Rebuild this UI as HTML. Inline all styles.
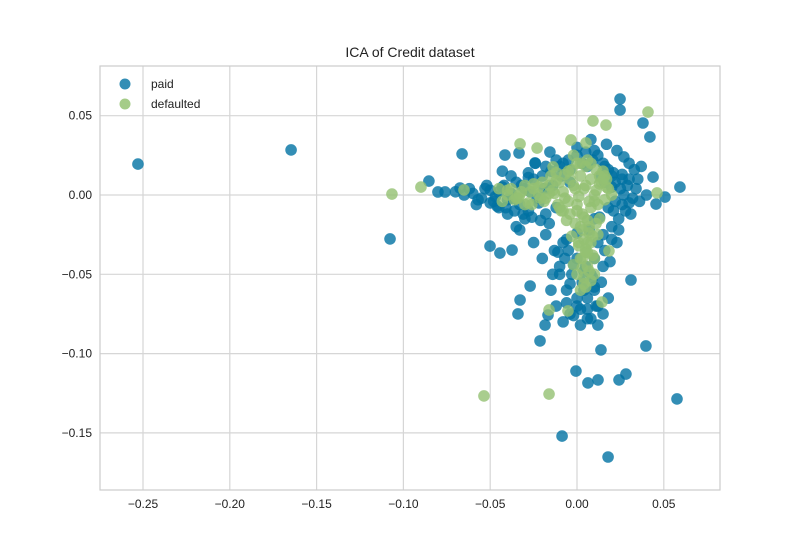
<!DOCTYPE html>
<html><head><meta charset="utf-8"><style>
body{margin:0;background:#fff;}
svg{display:block;font-family:"Liberation Sans","DejaVu Sans",sans-serif;}
</style></head><body>
<svg id="chart" width="800" height="550" viewBox="0 0 800 550" xmlns="http://www.w3.org/2000/svg">
<rect width="800" height="550" fill="#fff"/>
<text x="410" y="57" text-anchor="middle" font-size="14" fill="#222">ICA of Credit dataset</text>
<g id="grid"></g><g id="ticks"></g><g id="marks"></g>
<rect x="100" y="66" width="620" height="424" fill="none" stroke="#cccccc" stroke-width="1.2"/>
<g>
<circle cx="125" cy="84" r="5.5" fill="#0072a2" fill-opacity="0.8"/>
<text x="151" y="88" font-size="12" fill="#222">paid</text>
<circle cx="125" cy="104" r="5.5" fill="#8fbf6a" fill-opacity="0.8"/>
<text x="151" y="108" font-size="12" fill="#222">defaulted</text>
</g>
</svg>
<script>
const xTicks=[-0.25,-0.20,-0.15,-0.10,-0.05,0.00,0.05];
const xTickLabels=["−0.25","−0.20","−0.15","−0.10","−0.05","0.00","0.05"];
const yTicks=[0.05,0.00,-0.05,-0.10,-0.15];
const yTickLabels=["0.05","0.00","−0.05","−0.10","−0.15"];
const paidX=[-0.2529,-0.1647,-0.1077,-0.0662,0.0593,0.0248,0.0248,0.038,0.042,0.0438,0.0507,0.0455,0.0311,0.0397,0.0576,0.0138,-0.0006,0.0282,0.0121,0.0063,0.0242,-0.0086,0.0179,-0.0213,-0.0501,-0.0444,-0.0374,-0.034,-0.0328,-0.027,-0.0184,-0.0167,-0.0674,-0.0853,-0.0801,-0.076,-0.0415,-0.0334,-0.0156,-0.0242,
-0.06,-0.055,-0.05,-0.048,-0.045,-0.042,-0.04,-0.038,-0.035,-0.033,-0.03,-0.028,-0.025,-0.022,-0.02,-0.018,-0.015,-0.012,-0.01,-0.008,-0.005,0,0.005,0.01,0.012,0.015,0.018,0.02,0.022,0.025,0.027,0.03,0.032,0.028,0.024,0.02,0.015,0.012,-0.03,-0.035,-0.04,-0.045,-0.052,-0.058,-0.062,-0.038,-0.043,-0.028,-0.024,-0.018,0.0,0.008,0.017,0.023,0.03,0.035,0.04,0.033,0.027,
-0.008,-0.005,0.0,0.005,-0.003,0.003,0.008,-0.006,0.0,0.006,0.01,-0.01,0.012,0.002,-0.004,0.008,-0.008,0.015,-0.012,-0.015,0.018,-0.02,-0.025,-0.018,0.01,0.015,0.002,0.012,-0.01,
-0.07,-0.065,-0.057,-0.012,0.006,0.014,0.02,-0.004,0.01,0.026,0.016,-0.016,
-0.053,-0.047,-0.043,-0.037,-0.032,-0.027,-0.023,-0.019,-0.014,-0.009,-0.004,0.003,0.009,0.016,0.021,0.026,0.029,0.034,0.036,-0.05,-0.046,-0.041,-0.036,-0.031,-0.026,-0.021,-0.016,0.018,0.022,0.026,0.03,0.021,0.013,0.007,0.0,-0.006,-0.011,0.016,0.02,0.024,-0.013,-0.007,-0.002,0.004,0.009,0.014,-0.006,0.0,0.006,0.011,-0.004,0.004,0.01,-0.002,0.006,-0.014,0.019,0.023,-0.028,-0.033,0.031,0.037];
const paidY=[0.0195,0.0284,-0.0277,0.0259,0.005,0.0605,0.0536,0.0454,0.0366,0.0113,-0.0013,-0.0057,-0.0536,-0.0952,-0.1286,-0.0977,-0.111,-0.1129,-0.1166,-0.1185,-0.1166,-0.152,-0.1652,-0.092,-0.0322,-0.0366,-0.0347,-0.075,-0.0662,-0.0574,-0.082,-0.0757,0.0044,0.0088,0.0019,0.0019,0.0252,0.0265,0.0271,0.0202,
0.001,-0.002,0.003,-0.004,0.002,0.006,-0.003,0.001,0.008,-0.006,0.004,-0.01,0.01,-0.005,0.012,-0.012,0.015,-0.008,0.018,0.02,0.022,0.025,0.027,0.028,0.025,0.02,0.016,0.012,0.008,0.004,0.0,-0.005,-0.002,-0.01,-0.015,-0.02,-0.025,-0.03,-0.015,-0.02,-0.012,-0.008,0.006,-0.006,0.004,0.012,0.015,0.014,0.02,0.018,0.03,0.035,0.032,0.028,0.02,0.01,0.0,0.016,0.024,
-0.03,-0.035,-0.04,-0.045,-0.05,-0.055,-0.05,-0.06,-0.065,-0.065,-0.06,-0.045,-0.07,-0.072,-0.075,-0.078,-0.08,-0.075,-0.07,-0.06,-0.065,-0.04,-0.03,-0.025,-0.04,-0.045,-0.082,-0.082,-0.05,
0.002,0.0,-0.003,0.022,0.018,0.012,0.005,0.008,-0.015,-0.006,0.008,0.004,
0.004,-0.001,0.005,-0.002,0.006,0.002,-0.002,0.004,0.006,0.012,0.016,0.02,0.022,0.018,0.014,0.01,0.006,0.004,-0.004,-0.005,-0.007,-0.008,-0.01,-0.012,-0.014,-0.016,-0.018,-0.008,-0.004,0.013,0.01,-0.01,-0.014,-0.022,-0.024,-0.028,-0.036,-0.035,-0.028,-0.022,-0.035,-0.04,-0.044,-0.048,-0.052,-0.055,-0.068,-0.07,-0.072,-0.07,-0.056,-0.06,-0.058,-0.076,-0.078,-0.05,-0.042,-0.03,0.011,-0.022,-0.012,0.018];
const defX=[-0.1066,-0.0899,-0.0651,-0.0536,-0.0161,0.0409,0.0461,0.0184,0.0144,-0.0052,-0.0161,-0.0328,-0.023,0.0092,0.0167,-0.0035,0.0052,-0.0138,
-0.04,-0.036,-0.032,-0.028,-0.025,-0.022,-0.019,-0.016,-0.013,-0.01,-0.007,-0.004,-0.001,0.002,0.005,0.008,0.011,0.014,0.017,0.02,-0.03,-0.02,-0.01,0.0,0.01,-0.015,-0.005,0.005,0.015,-0.025,0.003,0.006,0.002,0.007,0.004,0.001,0.008,0.005,0.003,0.009,0.006,0.0,0.01,0.004,-0.002,0.012,0.0,-0.008,0.008,0.013,0.016,-0.035,-0.045,
-0.043,-0.038,-0.034,-0.03,-0.026,-0.022,-0.018,-0.014,-0.011,-0.008,-0.005,-0.002,0.001,0.004,0.007,0.01,0.013,0.016,-0.04,-0.033,-0.027,-0.021,-0.016,-0.012,-0.007,-0.003,0.002,0.006,0.011,0.015,0.018,-0.009,-0.004,0.0,0.004,0.008,0.012,-0.006,-0.001,0.003,0.007,0.011,-0.003,0.001,0.005,0.009,0.002,0.006,0.01,0.003,0.007,0.004,0.008,0.005,0.002,0.006,-0.012,-0.002,0.013,0.017];
const defY=[0.0006,0.005,0.0032,-0.1267,-0.1255,0.0523,0.0013,-0.0353,-0.0675,-0.0731,-0.0725,0.0322,0.0296,0.0467,0.0441,0.0347,0.0328,0.0177,
0.0,-0.003,0.002,-0.005,0.004,0.0,-0.004,0.006,0.001,0.008,-0.002,0.01,0.004,0.012,0.006,0.01,0.003,0.008,0.005,0.0,-0.006,0.008,-0.008,-0.006,-0.004,0.012,0.015,0.018,0.015,0.007,-0.012,-0.016,-0.02,-0.024,-0.028,-0.032,-0.03,-0.036,-0.04,-0.038,-0.045,-0.05,-0.05,-0.056,-0.044,-0.025,0.02,-0.01,0.02,-0.015,0.012,-0.002,0.004,
-0.004,0.004,-0.002,0.006,-0.006,0.005,-0.002,0.003,-0.006,0.002,-0.004,0.006,-0.001,0.004,-0.004,0.0,0.007,-0.003,0.003,0.0,0.002,-0.002,0.001,0.009,0.013,0.016,0.02,0.022,0.016,0.01,0.004,-0.01,-0.012,-0.01,-0.014,-0.008,-0.006,-0.016,-0.018,-0.022,-0.02,-0.018,-0.026,-0.03,-0.034,-0.026,-0.04,-0.036,-0.04,-0.046,-0.048,-0.052,-0.054,-0.058,-0.06,-0.03,0.014,0.025,0.012,0.01];
const X0=577, XS=1736, Y0=195, YS=1586;
function sx(v){return X0+v*XS;}
function sy(v){return Y0-v*YS;}
const NS="http://www.w3.org/2000/svg";
const grid=document.getElementById('grid'),ticks=document.getElementById('ticks'),marks=document.getElementById('marks');
xTicks.forEach((t,i)=>{
  const l=document.createElementNS(NS,'line');
  
  
  l.setAttribute('x1',sx(t));l.setAttribute('x2',sx(t));l.setAttribute('y1',66);l.setAttribute('y2',490);
  l.setAttribute('stroke','#d6d6d6');l.setAttribute('stroke-width','1.2');grid.appendChild(l);
  const tx=document.createElementNS(NS,'text');
  
  
  tx.setAttribute('x',sx(t));tx.setAttribute('y',508);tx.setAttribute('text-anchor','middle');
  tx.setAttribute('font-size','12');tx.setAttribute('fill','#222');tx.textContent=xTickLabels[i];ticks.appendChild(tx);
});
yTicks.forEach((t,i)=>{
  const l=document.createElementNS(NS,'line');
  
  
  l.setAttribute('x1',100);l.setAttribute('x2',720);l.setAttribute('y1',sy(t));l.setAttribute('y2',sy(t));
  l.setAttribute('stroke','#d6d6d6');l.setAttribute('stroke-width','1.2');grid.appendChild(l);
  const tx=document.createElementNS(NS,'text');
  
  
  tx.setAttribute('x',92);tx.setAttribute('y',sy(t)+4);tx.setAttribute('text-anchor','end');
  tx.setAttribute('font-size','12');tx.setAttribute('fill','#222');tx.textContent=yTickLabels[i];ticks.appendChild(tx);
});
function drawSeries(xs,ys,color,name){
  xs.forEach((v,i)=>{
    const c=document.createElementNS(NS,'circle');
    
    
    c.setAttribute('cx',sx(v));c.setAttribute('cy',sy(ys[i]));c.setAttribute('r',5.8);
    c.setAttribute('fill',color);c.setAttribute('fill-opacity','0.8');marks.appendChild(c);
  });
}
drawSeries(paidX,paidY,'#0072a2','point-paid');
drawSeries(defX,defY,'#93c072','point-defaulted');
</script>
</body></html>
